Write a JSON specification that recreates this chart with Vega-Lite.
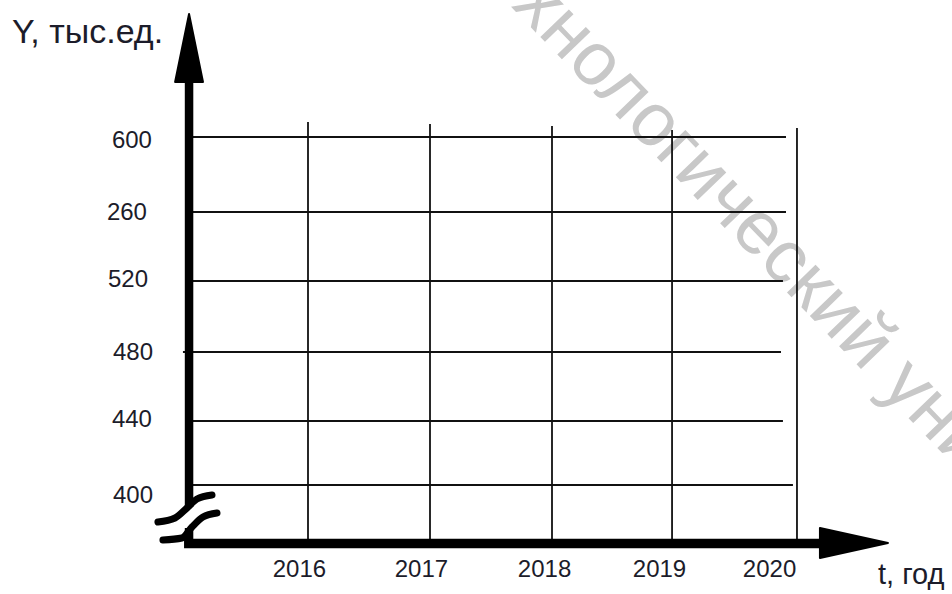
{
  "$schema": "https://vega.github.io/schema/vega-lite/v6.json",
  "width": 952,
  "height": 594,
  "autosize": {"type": "none"},
  "padding": 0,
  "background": "white",
  "config": {"view": {"stroke": null}},
  "datasets": {
    "wm": [{"text": "технологический университет", "t": 2020.320, "v": 504.0}],
    "hgrid": [
      {"label": "600", "v": 602.29, "t0": 2015.033, "t1": 2019.918, "lt": 2014.721, "lv": 596.0},
      {"label": "260", "v": 559.43, "t0": 2015.033, "t1": 2019.918, "lt": 2014.680, "lv": 554.86},
      {"label": "520", "v": 520.0, "t0": 2015.033, "t1": 2019.893, "lt": 2014.689, "lv": 516.57},
      {"label": "480", "v": 479.43, "t0": 2014.975, "t1": 2019.877, "lt": 2014.730, "lv": 474.86},
      {"label": "440", "v": 440.0, "t0": 2015.033, "t1": 2019.893, "lt": 2014.721, "lv": 436.57},
      {"label": "400", "v": 403.43, "t0": 2015.033, "t1": 2019.975, "lt": 2014.730, "lv": 393.14}
    ],
    "vgrid": [
      {"year": "2016", "t": 2016.0, "vtop": 610.86, "vbot": 370.29, "lt": 2015.930},
      {"year": "2017", "t": 2017.0, "vtop": 609.71, "vbot": 370.29, "lt": 2016.930},
      {"year": "2018", "t": 2018.0, "vtop": 608.57, "vbot": 370.29, "lt": 2017.939},
      {"year": "2019", "t": 2018.984, "vtop": 606.29, "vbot": 370.29, "lt": 2018.881},
      {"year": "2020", "t": 2020.008, "vtop": 607.43, "vbot": 370.29, "lt": 2019.783}
    ],
    "yaxis": [
      {"seg": "upper", "t": 2015.025, "v": 634.86, "v2": 390.86},
      {"seg": "lower", "t": 2015.025, "v": 378.86, "v2": 369.71}
    ],
    "xaxis": [{"t": 2014.984, "t2": 2020.525, "v": 370.0}],
    "uparrow": [{"t": 2015.025, "v": 653.14}],
    "rightarrow": [{"t": 2020.475, "v": 370.29}],
    "brk": [
      {"s": "a", "i": 1, "t": 2014.770, "v": 382.29},
      {"s": "a", "i": 2, "t": 2014.910, "v": 384.57},
      {"s": "a", "i": 3, "t": 2015.008, "v": 390.29},
      {"s": "a", "i": 4, "t": 2015.090, "v": 395.43},
      {"s": "a", "i": 5, "t": 2015.213, "v": 397.71},
      {"s": "b", "i": 1, "t": 2014.811, "v": 372.0},
      {"s": "b", "i": 2, "t": 2014.967, "v": 373.14},
      {"s": "b", "i": 3, "t": 2015.049, "v": 379.43},
      {"s": "b", "i": 4, "t": 2015.139, "v": 385.14},
      {"s": "b", "i": 5, "t": 2015.254, "v": 387.43}
    ],
    "titles": [
      {"text": "Y, тыс.ед.", "t": 2013.574, "v": 656.0, "which": "y"},
      {"text": "t, год", "t": 2020.672, "v": 346.86, "which": "x"}
    ]
  },
  "layer": [
    {
      "data": {"name": "wm"},
      "mark": {"type": "text", "angle": 46, "align": "center", "baseline": "middle", "font": "Liberation Sans", "fontSize": 75, "color": "#c8c8c8"},
      "encoding": {
        "x": {"field": "t", "type": "quantitative", "scale": {"domain": [2013.4754, 2021.2787], "nice": false, "zero": false}, "axis": null},
        "y": {"field": "v", "type": "quantitative", "scale": {"domain": [341.143, 680.571], "nice": false, "zero": false}, "axis": null},
        "text": {"field": "text"}
      }
    },
    {
      "data": {"name": "hgrid"},
      "mark": {"type": "rule", "color": "#111111", "strokeWidth": 1.8},
      "encoding": {
        "x": {"field": "t0", "type": "quantitative", "scale": {"domain": [2013.4754, 2021.2787], "nice": false, "zero": false}, "axis": null},
        "x2": {"field": "t1"},
        "y": {"field": "v", "type": "quantitative", "scale": {"domain": [341.143, 680.571], "nice": false, "zero": false}, "axis": null}
      }
    },
    {
      "data": {"name": "vgrid"},
      "mark": {"type": "rule", "color": "#111111", "strokeWidth": 1.8},
      "encoding": {
        "x": {"field": "t", "type": "quantitative", "scale": {"domain": [2013.4754, 2021.2787], "nice": false, "zero": false}, "axis": null},
        "y": {"field": "vtop", "type": "quantitative", "scale": {"domain": [341.143, 680.571], "nice": false, "zero": false}, "axis": null},
        "y2": {"field": "vbot"}
      }
    },
    {
      "data": {"name": "yaxis"},
      "mark": {"type": "rule", "color": "black", "strokeWidth": 8.5},
      "encoding": {
        "x": {"field": "t", "type": "quantitative", "scale": {"domain": [2013.4754, 2021.2787], "nice": false, "zero": false}, "axis": null},
        "y": {"field": "v", "type": "quantitative", "scale": {"domain": [341.143, 680.571], "nice": false, "zero": false}, "axis": null},
        "y2": {"field": "v2"}
      }
    },
    {
      "data": {"name": "xaxis"},
      "mark": {"type": "rule", "color": "black", "strokeWidth": 9.5},
      "encoding": {
        "x": {"field": "t", "type": "quantitative", "scale": {"domain": [2013.4754, 2021.2787], "nice": false, "zero": false}, "axis": null},
        "x2": {"field": "t2"},
        "y": {"field": "v", "type": "quantitative", "scale": {"domain": [341.143, 680.571], "nice": false, "zero": false}, "axis": null}
      }
    },
    {
      "data": {"name": "brk"},
      "mark": {"type": "line", "color": "black", "strokeWidth": 7, "strokeCap": "round", "interpolate": "monotone"},
      "encoding": {
        "x": {"field": "t", "type": "quantitative", "scale": {"domain": [2013.4754, 2021.2787], "nice": false, "zero": false}, "axis": null},
        "y": {"field": "v", "type": "quantitative", "scale": {"domain": [341.143, 680.571], "nice": false, "zero": false}, "axis": null},
        "detail": {"field": "s"},
        "order": {"field": "i"}
      }
    },
    {
      "data": {"name": "uparrow"},
      "mark": {"type": "point", "shape": "M0,-1L0.41,1L-0.41,1Z", "size": 4624, "filled": true, "color": "black", "opacity": 1, "stroke": "black", "strokeWidth": 2, "strokeJoin": "round"},
      "encoding": {
        "x": {"field": "t", "type": "quantitative", "scale": {"domain": [2013.4754, 2021.2787], "nice": false, "zero": false}, "axis": null},
        "y": {"field": "v", "type": "quantitative", "scale": {"domain": [341.143, 680.571], "nice": false, "zero": false}, "axis": null}
      }
    },
    {
      "data": {"name": "rightarrow"},
      "mark": {"type": "point", "shape": "M1,0L-1,-0.44L-1,0.44Z", "size": 4624, "filled": true, "color": "black", "opacity": 1, "stroke": "black", "strokeWidth": 2, "strokeJoin": "round"},
      "encoding": {
        "x": {"field": "t", "type": "quantitative", "scale": {"domain": [2013.4754, 2021.2787], "nice": false, "zero": false}, "axis": null},
        "y": {"field": "v", "type": "quantitative", "scale": {"domain": [341.143, 680.571], "nice": false, "zero": false}, "axis": null}
      }
    },
    {
      "data": {"name": "hgrid"},
      "mark": {"type": "text", "align": "right", "baseline": "alphabetic", "font": "Liberation Sans", "fontSize": 24, "color": "#1c1c2a"},
      "encoding": {
        "x": {"field": "lt", "type": "quantitative", "scale": {"domain": [2013.4754, 2021.2787], "nice": false, "zero": false}, "axis": null},
        "y": {"field": "lv", "type": "quantitative", "scale": {"domain": [341.143, 680.571], "nice": false, "zero": false}, "axis": null},
        "text": {"field": "label"}
      }
    },
    {
      "data": {"name": "vgrid"},
      "mark": {"type": "text", "align": "center", "baseline": "alphabetic", "font": "Liberation Sans", "fontSize": 24, "color": "#1c1c2a"},
      "encoding": {
        "x": {"field": "lt", "type": "quantitative", "scale": {"domain": [2013.4754, 2021.2787], "nice": false, "zero": false}, "axis": null},
        "y": {"datum": 350.86, "type": "quantitative", "scale": {"domain": [341.143, 680.571], "nice": false, "zero": false}, "axis": null},
        "text": {"field": "year"}
      }
    },
    {
      "data": {"name": "titles"},
      "transform": [{"filter": "datum.which == 'y'"}],
      "mark": {"type": "text", "align": "left", "baseline": "alphabetic", "font": "Liberation Sans", "fontSize": 34, "color": "#1c1c2a"},
      "encoding": {
        "x": {"field": "t", "type": "quantitative", "scale": {"domain": [2013.4754, 2021.2787], "nice": false, "zero": false}, "axis": null},
        "y": {"field": "v", "type": "quantitative", "scale": {"domain": [341.143, 680.571], "nice": false, "zero": false}, "axis": null},
        "text": {"field": "text"}
      }
    },
    {
      "data": {"name": "titles"},
      "transform": [{"filter": "datum.which == 'x'"}],
      "mark": {"type": "text", "align": "left", "baseline": "alphabetic", "font": "Liberation Sans", "fontSize": 29, "color": "#1c1c2a"},
      "encoding": {
        "x": {"field": "t", "type": "quantitative", "scale": {"domain": [2013.4754, 2021.2787], "nice": false, "zero": false}, "axis": null},
        "y": {"field": "v", "type": "quantitative", "scale": {"domain": [341.143, 680.571], "nice": false, "zero": false}, "axis": null},
        "text": {"field": "text"}
      }
    }
  ]
}
